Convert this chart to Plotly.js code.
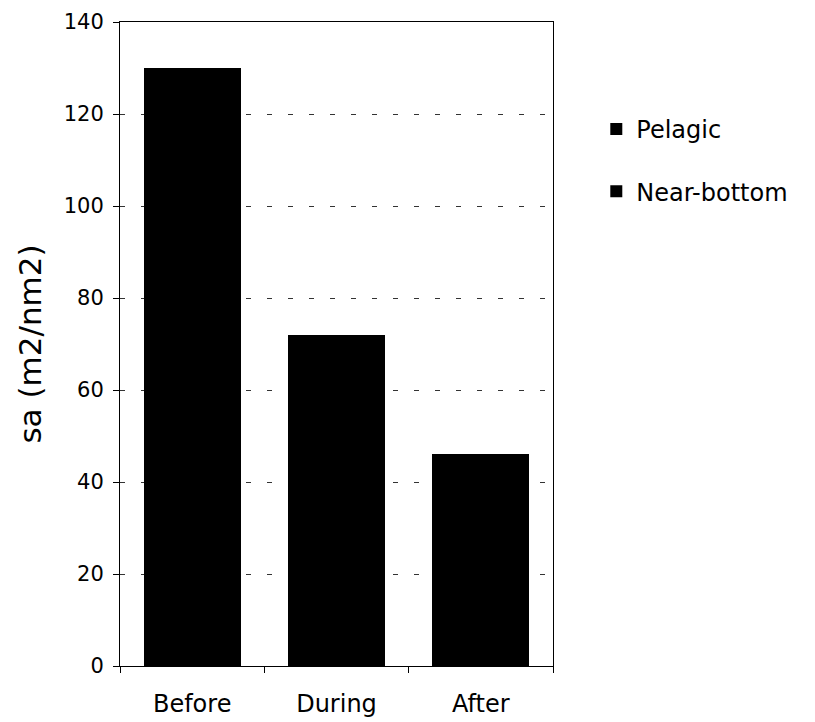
<!DOCTYPE html>
<html>
<head>
<meta charset="utf-8">
<script src="https://cdn.plot.ly/plotly-3.0.1.min.js"></script>
<style>html,body{margin:0;padding:0;background:#fff;}#chart{width:815px;height:722px;}</style>
</head>
<body>
<div id="chart"></div>
<script>
var categories = ["Before", "During", "After"];
var pelagic = [130, 72, 46];
var nearBottom = [0, 0, 0];
var seriesNames = ["Pelagic", "Near-bottom"];
var yTicks = [0, 20, 40, 60, 80, 100, 120, 140];

var font = "DejaVu Sans, Liberation Sans, sans-serif";
var data = [
  {type: "bar", x: categories, y: pelagic, name: seriesNames[0], marker: {color: "#000", line: {width: 0}}, legendgroup: "a"},
  {type: "bar", x: categories, y: nearBottom, name: seriesNames[1], marker: {color: "#000", line: {width: 0}}, legendgroup: "b"}
];
var layout = {
  width: 815, height: 722,
  margin: {l: 120, r: 262, t: 22, b: 56},
  paper_bgcolor: "#fff", plot_bgcolor: "#fff",
  barmode: "stack", bargap: 0.33,
  font: {family: font, color: "#000", size: 21},
  showlegend: true,
  legend: {x: 1.1, y: 0.868, xanchor: "left", yanchor: "top", font: {size: 24, family: font}, tracegroupgap: 28, traceorder: "grouped", bgcolor: "rgba(0,0,0,0)"},
  xaxis: {
    type: "category", tickson: "boundaries", ticks: "outside", ticklen: 6, tickcolor: "#000",
    showline: true, linecolor: "#000", linewidth: 1, mirror: true, showgrid: false,
    tickfont: {size: 24, family: font}, ticklabelstandoff: 16
  },
  yaxis: {
    range: [0, 140], tickvals: yTicks, ticks: "outside", ticklen: 6, tickcolor: "#000",
    showline: true, linecolor: "#000", linewidth: 1, mirror: true,
    showgrid: true, gridcolor: "#333", gridwidth: 1, griddash: "5px,16px",
    zeroline: false, tickfont: {size: 21, family: font}, ticklabelstandoff: 5,
    title: {text: "sa (m2/nm2)", font: {size: 31, family: font}, standoff: 12}
  }
};
Plotly.newPlot("chart", data, layout, {displayModeBar: false, staticPlot: true});
</script>
</body>
</html>
